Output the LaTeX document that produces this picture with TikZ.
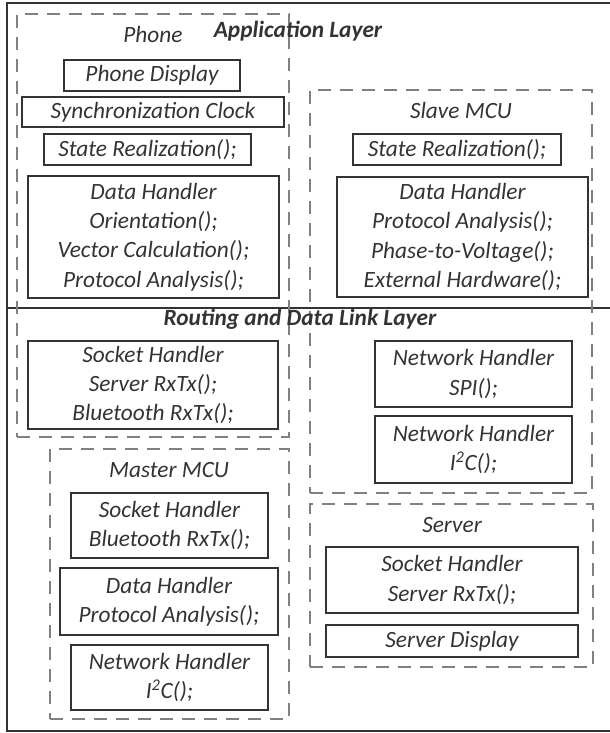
\documentclass[tikz,border=0pt]{standalone}
\usepackage{fontspec}
\setmainfont{Carlito}
\definecolor{ink}{HTML}{333333}
\definecolor{dgray}{HTML}{808080}
\newcommand\bxnode[6]{\node[box, minimum width={(#4-#2)*0.75pt}, minimum height={(#5-#3)*0.75pt}] (#1) at ({(#2+#4)/2},{(#3+#5)/2}) {#6};}
\newcommand\grpnode[5]{\node[grp, minimum width={(#4-#2)*0.75pt}, minimum height={(#5-#3)*0.75pt}] (#1) at ({(#2+#4)/2},{(#3+#5)/2}) {};}
\begin{document}
\begin{tikzpicture}[x=0.75pt,y=-0.75pt,
  txt/.style={font=\fontsize{17.5}{22}\selectfont\itshape, text=ink, align=center},
  ttl/.style={font=\fontsize{17.5}{21}\selectfont\bfseries\itshape, text=ink},
  box/.style={txt, draw=ink, line width=1.4pt, inner sep=0pt},
  grp/.style={draw=dgray, line width=1.4pt, dash pattern=on 10pt off 6.5pt, inner sep=0pt},
  frame/.style={draw=ink, line width=1.8pt}]
\useasboundingbox (0,0) rectangle (610,733);
% outer frame and divider
\coordinate (tr) at (612,3);
\coordinate (tl) at (7,3);
\coordinate (bl) at (7,731);
\coordinate (br) at (612,731);
\coordinate (dl) at (7,308);
\coordinate (dr) at (612,308);
\draw[frame] (tr) -- (tl) -- (bl) -- (br);
\draw[draw=ink, line width=1.3pt] (dl) -- (dr);
% dashed groups
\grpnode{phone}{17}{14}{289}{437}
\grpnode{slave}{310}{90}{592}{493}
\grpnode{master}{50}{449}{289}{719}
\grpnode{server}{310}{504}{593}{667}
% titles
\node[ttl, anchor=base] (applayer) at (298,37) {Application Layer};
\node[ttl, anchor=base] (routing) at (300,325) {Routing and Data Link Layer};
\node[txt, anchor=base] (phonelbl) at (153,42) {Phone};
\node[txt, anchor=base] (slavelbl) at (461,118) {Slave MCU};
\node[txt, anchor=base] (masterlbl) at (169,477) {Master MCU};
\node[txt, anchor=base] (serverlbl) at (452,532) {Server};
% phone boxes
\bxnode{pdisp}{64}{60}{240}{91}{Phone Display}
\bxnode{sync}{22}{97}{284}{127}{Synchronization Clock}
\bxnode{pstate}{44}{134}{251}{165}{State Realization();}
\bxnode{pdata}{28}{176}{279}{298}{Data Handler\\Orientation();\\Vector Calculation();\\Protocol Analysis();}
\bxnode{psock}{28}{341}{278}{429}{Socket Handler\\Server RxTx();\\Bluetooth RxTx();}
% slave boxes
\bxnode{sstate}{353}{134}{561}{165}{State Realization();}
\bxnode{sdata}{337}{177}{588}{297}{Data Handler\\Protocol Analysis();\\Phase-to-Voltage();\\External Hardware();}
\bxnode{sspi}{375}{341}{572}{407}{Network Handler\\SPI();}
\bxnode{si2c}{375}{416}{572}{483}{Network Handler\\I\textsuperscript{2}C();}
% master boxes
\bxnode{msock}{71}{493}{268}{558}{Socket Handler\\Bluetooth RxTx();}
\bxnode{mdata}{60}{568}{278}{635}{Data Handler\\Protocol Analysis();}
\bxnode{mi2c}{71}{645}{268}{710}{Network Handler\\I\textsuperscript{2}C();}
% server boxes
\bxnode{ssock}{326}{547}{578}{613}{Socket Handler\\Server RxTx();}
\bxnode{sdisp}{326}{625}{578}{657}{Server Display}
\end{tikzpicture}
\end{document}
